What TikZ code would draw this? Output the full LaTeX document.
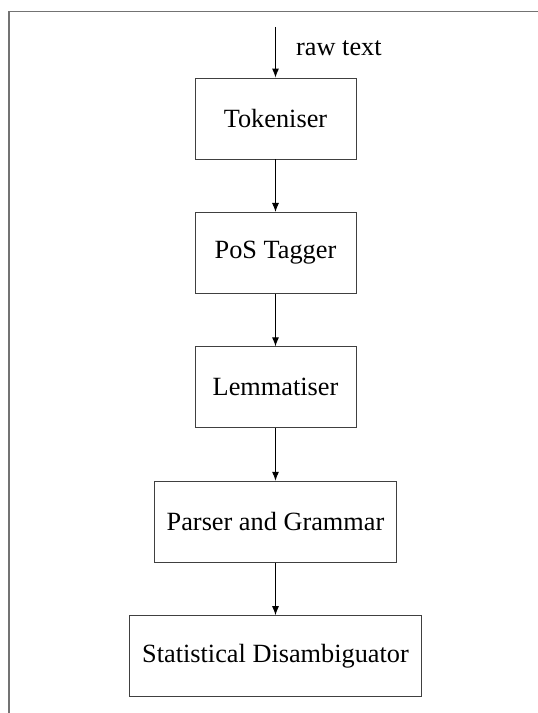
\documentclass[tikz,border=0pt]{standalone}
\usepackage{fontspec}
\setmainfont{Liberation Serif}
\usetikzlibrary{arrows.meta,positioning}

\begin{document}
\begin{tikzpicture}[x=1pt, y=1pt,
    stage/.style={draw=black!75, line width=0.9pt, minimum width=161pt,
      minimum height=81pt, inner xsep=12.5pt, font=\fontsize{26.3}{30}\selectfont},
    flow/.style={->, >={Latex[length=9pt,width=7pt]}, line width=0.9pt},
    frame/.style={draw=black!55, line width=1.6pt},
    node distance=52.5pt]
      \useasboundingbox (0,0) rectangle (538,-713);
      \draw[frame] (538,-11.3) -- (9,-11.3) -- (9,-713);

      % pipeline stages, top to bottom
      \coordinate (input) at (275.5,-26.8);
      \node[stage] (tok) at (275.5,-118.5) {Tokeniser};
      \node[stage, below=of tok] (pos) {PoS Tagger};
      \node[stage, below=of pos] (lem) {Lemmatiser};
      \node[stage, below=of lem] (parse) {Parser and Grammar};
      \node[stage, below=of parse] (disamb) {Statistical Disambiguator};

      \node[anchor=base west, inner sep=0pt, font=\fontsize{26.3}{30}\selectfont]
        (rawlbl) at (296,-55) {raw text};

      \draw[flow] (input) -- (tok);
      \draw[flow] (tok) -- (pos);
      \draw[flow] (pos) -- (lem);
      \draw[flow] (lem) -- (parse);
      \draw[flow] (parse) -- (disamb);
    \end{tikzpicture}
\end{document}
